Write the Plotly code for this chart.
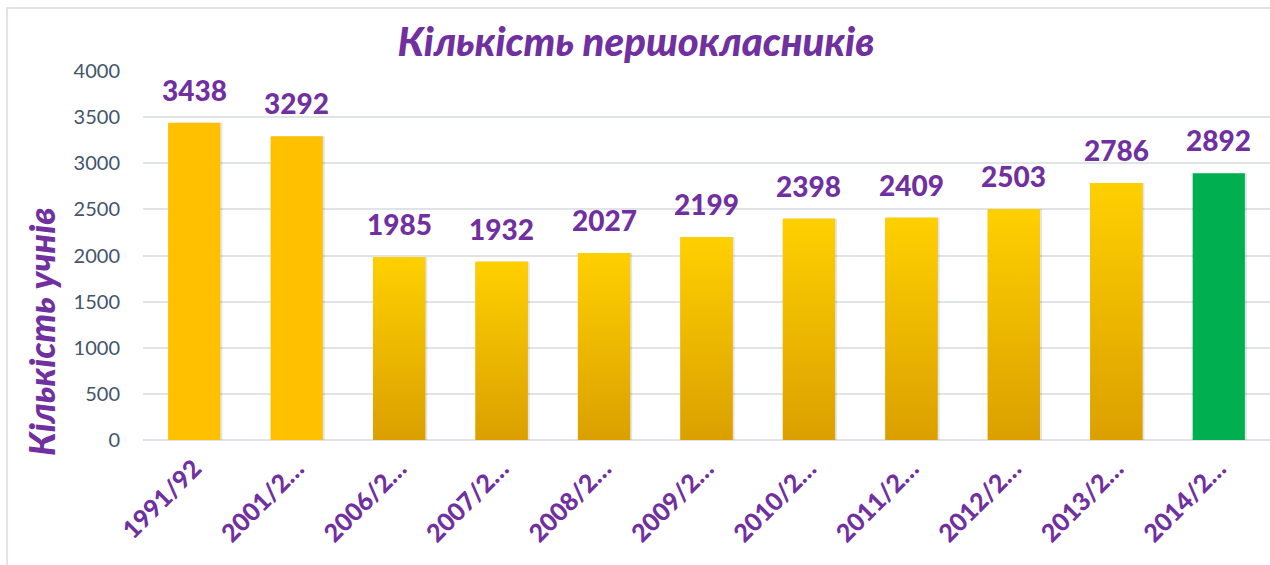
import plotly.graph_objects as go

categories = ["1991/92", "2001/2…", "2006/2…", "2007/2…", "2008/2…", "2009/2…",
              "2010/2…", "2011/2…", "2012/2…", "2013/2…", "2014/2…"]
values = [3438, 3292, 1985, 1932, 2027, 2199, 2398, 2409, 2503, 2786, 2892]
fill_kind = ["solid", "solid", "grad", "grad", "grad", "grad", "grad", "grad", "grad", "grad", "green"]

PURPLE = "#7030A0"
SOLID = "#FFC000"
GREEN = "#00B050"
GRAD_TOP = "#FFD000"
GRAD_BOT = "#DBA000"
FONT = "Lato"
BAR_W = 0.51

W, H = 1270, 565
L, R, T, B = 143, 0, 71, 125

xs = list(range(len(categories)))
colors = [SOLID if k == "solid" else GREEN if k == "green" else "#EDB800" for k in fill_kind]

fig = go.Figure()
# shadow
fig.add_trace(go.Bar(x=xs, y=values, width=BAR_W, marker=dict(color="rgba(0,0,0,0.10)", line=dict(width=0)),
                     offset=-BAR_W / 2 + 0.02, hoverinfo="skip", showlegend=False))
fig.add_trace(go.Bar(x=xs, y=values, width=BAR_W, marker=dict(color=colors, line=dict(width=0)),
                     showlegend=False))

for i, (v, k) in enumerate(zip(values, fill_kind)):
    if k != "grad":
        continue
    x0, x1 = i - BAR_W / 2, i + BAR_W / 2
    fig.add_trace(go.Scatter(
        x=[x0, x1, x1, x0, x0], y=[0, 0, v, v, 0], mode="lines", fill="toself",
        line=dict(width=0, color="rgba(0,0,0,0)"),
        fillcolor="#EDB800",
        fillgradient=dict(type="vertical", colorscale=[[0, GRAD_BOT], [1, GRAD_TOP]]),
        hoverinfo="skip", showlegend=False))

for i, v in enumerate(values):
    fig.add_annotation(x=i, y=v, text=str(v), showarrow=False, yanchor="bottom",
                       yshift=14, font=dict(family=FONT, size=28, color=PURPLE, weight=900))

plot_h = H - T - B
plot_w = W - L - R
# chart border
fig.add_shape(type="rect", xref="paper", yref="paper",
              x0=(7 - L) / plot_w, x1=(W + 10 - L) / plot_w,
              y0=-(H + 10 - (H - B)) / plot_h, y1=(H - B - 8) / plot_h,
              line=dict(color="#D6DCE4", width=1.5), fillcolor="rgba(0,0,0,0)", layer="below")

fig.add_annotation(xref="paper", yref="paper", x=(41 - L) / plot_w, y=(H - B - 332) / plot_h,
                   text="<i>Кількість учнів</i>", textangle=-90, showarrow=False,
                   xanchor="center", yanchor="middle",
                   font=dict(family=FONT, size=36, color=PURPLE, weight=900))

fig.update_layout(
    width=W, height=H,
    margin=dict(l=L, r=R, t=T, b=B),
    paper_bgcolor="white", plot_bgcolor="white",
    barmode="overlay",
    title=dict(text="<i>Кількість першокласників</i>", x=(636) / W, xanchor="center",
               y=1 - 42 / H, yanchor="middle",
               font=dict(family=FONT, size=40, color=PURPLE, weight=900)),
    xaxis=dict(range=[-0.5, len(categories) - 0.5], tickmode="array", tickvals=xs,
               ticktext=categories, tickangle=-45,
               tickfont=dict(family=FONT, size=25, color=PURPLE, weight=900), showgrid=False,
               zeroline=False, showline=False, ticks="", ticklabelstandoff=8),
    yaxis=dict(range=[0, 4000], dtick=500, tickfont=dict(family=FONT, size=20, color="#44546A"),
               gridcolor="#E0E3E8", gridwidth=1.5, zeroline=True, zerolinecolor="#E0E3E8",
               zerolinewidth=1.5, ticks="", ticklabelstandoff=22),
    font=dict(family=FONT),
)

fig.write_html("out.html")
